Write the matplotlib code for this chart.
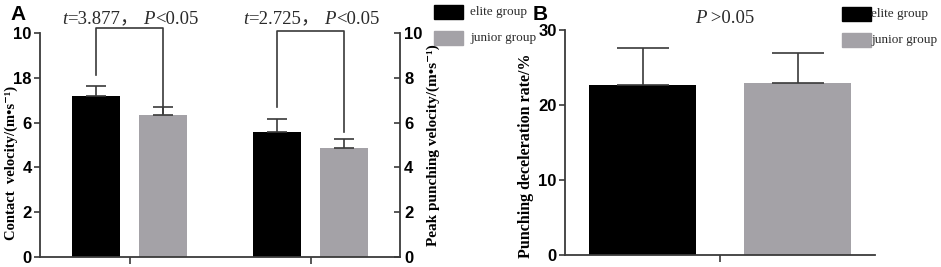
import numpy as np
import matplotlib
matplotlib.use("Agg")
import matplotlib.pyplot as plt
from matplotlib.patches import Rectangle
from matplotlib.offsetbox import TextArea, HPacker, AnnotationBbox

# panel A data (two measures, two groups)
groupsA = ["Contact velocity", "Peak punching velocity"]
eliteA = [7.19, 5.58]
eliteA_err = [0.44, 0.58]
juniorA = [6.34, 4.87]
juniorA_err = [0.36, 0.40]
leftTicks = [0, 2, 4, 6, 8, 10]
leftTickLabels = ["0", "2", "4", "6", "18", "10"]
tValues = ["3.877", "2.725"]

# panel B data
eliteB = 22.67
eliteB_err = 4.95
juniorB = 22.9
juniorB_err = 4.0
ticksB = [0, 10, 20, 30]

black = "#000000"
gray = "#a4a2a7"
axcol = "#3a3a3a"
txtcol = "#2a2a2a"
serif = ["Liberation Serif", "DejaVu Serif"]
cjk = ["Noto Sans CJK SC", "Liberation Serif"]

fig = plt.figure(figsize=(9.41, 2.67), dpi=100)
W, H = 941, 267

def px(l, t, r, b):
    return [l / W, 1 - b / H, (r - l) / W, (b - t) / H]

tickfont = dict(family="Liberation Sans", weight="bold", size=12)

def stat_label(ax, xy, pieces):
    # pieces: list of (text, italic)
    areas = []
    for s, it in pieces:
        fam = cjk if s == "\uff0c" else serif
        areas.append(TextArea(s, textprops=dict(family=fam, size=13.5, color=txtcol,
                                                style="italic" if it else "normal")))
    box = HPacker(children=areas, pad=0, sep=0, align="baseline")
    ab = AnnotationBbox(box, xy, xycoords="data", frameon=False, box_alignment=(0.5, 0.5),
                        annotation_clip=False)
    ax.add_artist(ab)

# ---------------- panel A ----------------
axA = fig.add_axes(px(40, 33, 400, 257))
x = np.arange(len(groupsA))
off = 0.185
w = 0.265
ekw = dict(ecolor=axcol, elinewidth=1.2, capsize=7, capthick=1.2)
axA.bar(x - off, eliteA, w, color=black, yerr=[[0, 0], eliteA_err], error_kw=ekw, zorder=2)
axA.bar(x + off, juniorA, w, color=gray, yerr=[[0, 0], juniorA_err], error_kw=ekw, zorder=2)
axA.set_xlim(-0.497, 1.492)
axA.set_ylim(0, 10)
axA.set_xticks(x)
axA.set_xticklabels([])
axA.set_yticks(leftTicks)
axA.set_yticklabels(leftTickLabels, fontdict=tickfont)
axA.tick_params(axis="y", length=4, width=1.2, color=axcol, pad=2)
axA.tick_params(axis="x", length=5, width=1.2, color=axcol)
for s in ["top", "right"]:
    axA.spines[s].set_visible(False)
for s in ["left", "bottom"]:
    axA.spines[s].set_color(axcol)
    axA.spines[s].set_linewidth(1.3)
axA.set_ylabel("Contact  velocity/(m\u2022s\u207b\u00b9)", family=serif, weight="bold", size=10.5)
axA.yaxis.set_label_coords(-0.06, 0.42)

axA2 = axA.twinx()
axA2.set_ylim(0, 10)
axA2.set_yticks(leftTicks)
axA2.set_yticklabels([str(t) for t in leftTicks], fontdict=tickfont)
axA2.tick_params(axis="y", direction="in", length=4, width=1.2, color=axcol, pad=3)
for s in ["top", "left", "bottom"]:
    axA2.spines[s].set_visible(False)
axA2.spines["right"].set_color(axcol)
axA2.spines["right"].set_linewidth(1.3)
axA2.set_ylabel("Peak punching velocity/(m\u2022s\u207b\u00b9)", family=serif, weight="bold", size=11, labelpad=3)

# significance brackets
tops = [10.22, 10.09]
legL = [8.12, 6.70]
legR = [6.45, 5.58]
for i in range(2):
    xl, xr = x[i] - off, x[i] + off
    axA.plot([xl, xl, xr, xr], [legL[i], tops[i], tops[i], legR[i]], color=axcol,
             lw=1.2, clip_on=False, zorder=3)
    stat_label(axA, (x[i] + 0.0, 10.63),
               [("t", True), ("=" + tValues[i], False), ("\uff0c", False), (" ", False),
                ("P", True), ("<0.05", False)])

fig.text(10 / W, 1 - 14 / H, "A", family="Liberation Sans", weight="bold", size=15, va="center")

def legend(lx, ty, gap, names):
    for j, (c, n) in enumerate(zip([black, gray], names)):
        t = ty + j * 26
        fig.patches.append(Rectangle((lx / W, 1 - (t + 14) / H), 29 / W, 14 / H,
                                     transform=fig.transFigure, color=c))
        fig.text((lx + 29 + gap) / W, 1 - (t + 7) / H, n, family=serif, size=9.5,
                 va="center", color=txtcol)

legend(434, 5, 7, ["elite group", "junior group"])

# ---------------- panel B ----------------
axB = fig.add_axes(px(565, 30, 875, 255))
ekwB = dict(ekw, capsize=19)
axB.bar([-0.5], [eliteB], 0.684, color=black, yerr=[[0], [eliteB_err]], error_kw=ekwB, zorder=2)
axB.bar([0.5], [juniorB], 0.684, color=gray, yerr=[[0], [juniorB_err]], error_kw=ekwB, zorder=2)
axB.set_xlim(-1.0, 1.0)
axB.set_ylim(0, 30)
axB.set_xticks([0])
axB.set_xticklabels([])
axB.set_yticks(ticksB)
axB.set_yticklabels([str(t) for t in ticksB], fontdict=tickfont)
axB.tick_params(axis="y", length=4, width=1.2, color=axcol, pad=2)
axB.tick_params(axis="x", length=5, width=1.2, color=axcol)
for s in ["top", "right"]:
    axB.spines[s].set_visible(False)
for s in ["left", "bottom"]:
    axB.spines[s].set_color(axcol)
    axB.spines[s].set_linewidth(1.3)
axB.set_ylabel("Punching deceleration rate/%", family=serif, weight="bold", size=11.5)
axB.yaxis.set_label_coords(-0.1, 0.44)
stat_label(axB, (0.03, 31.5), [("P", True), (" >0.05", False)])

fig.text(533 / W, 1 - 15 / H, "B", family="Liberation Sans", weight="bold", size=15, va="center")
legend(842, 7, 0, ["elite group", "junior group"])

fig.savefig("out.png", dpi=100)
